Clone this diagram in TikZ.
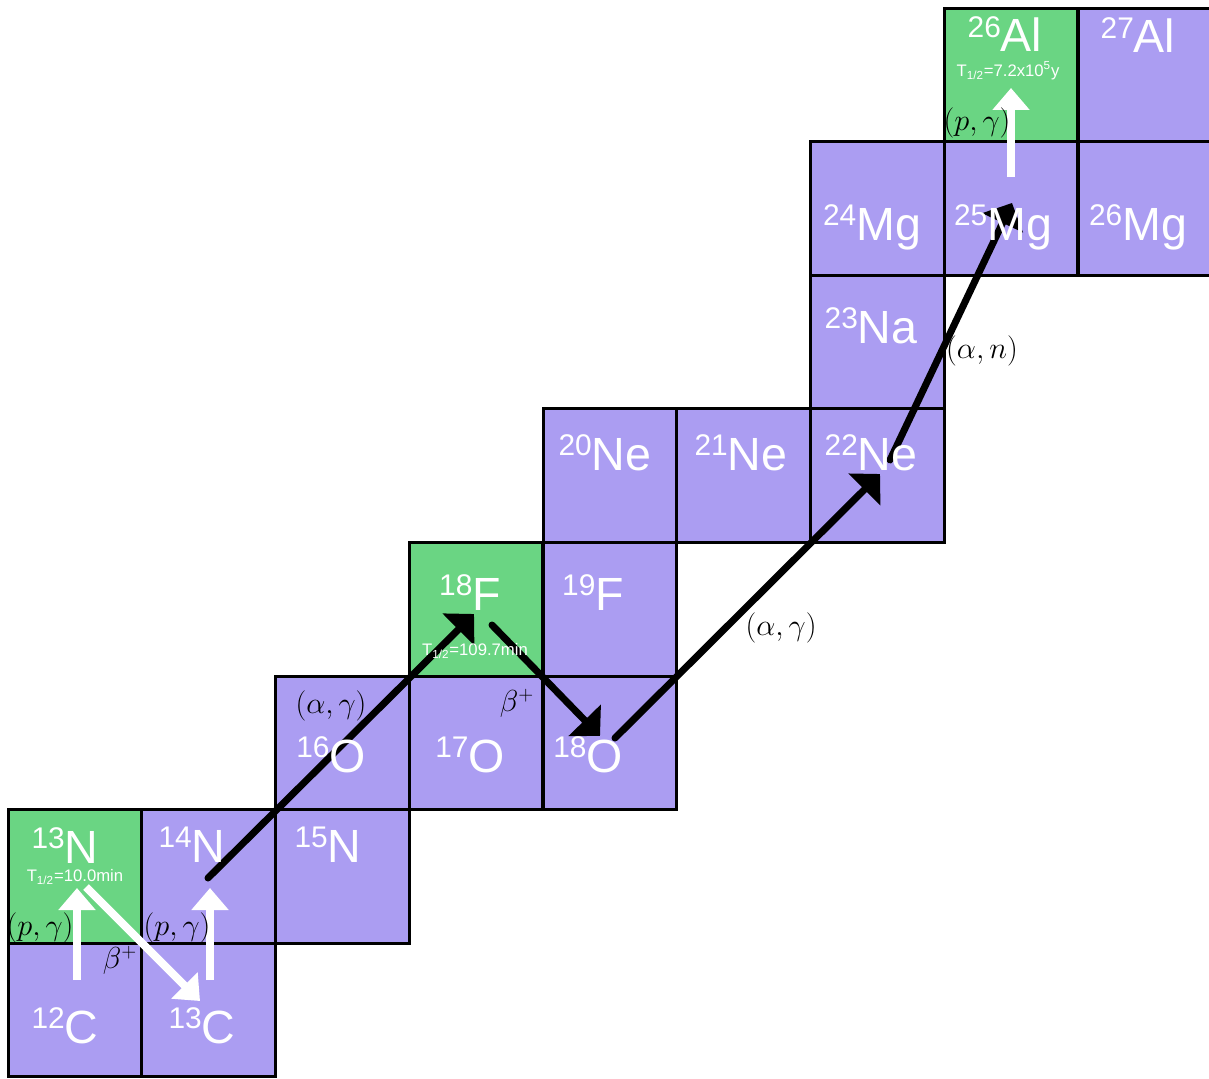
\documentclass[tikz,border=0pt]{standalone}
\usepackage{fontspec}
\setmainfont{Liberation Sans}
\usetikzlibrary{arrows.meta}
\definecolor{pur}{HTML}{AB9DF2}
\definecolor{grn}{HTML}{6AD583}
\newcommand\iso[2]{\raisebox{8.5pt}{\fontsize{17}{17}\selectfont #1}#2}
\newcommand\thalf[1]{T\textsubscript{1/2}=#1}
\begin{document}
\begin{tikzpicture}[x=0.02cm, y=-0.02cm,
  cell/.style={draw=black, line width=1.7pt, fill=pur, minimum width=2.675cm, minimum height=2.672cm, inner sep=0pt},
  gcell/.style={cell, fill=grn},
  isol/.style={text=white, font=\fontsize{26.5}{26.5}\selectfont, anchor=base, inner sep=0pt},
  hl/.style={text=white, font=\fontsize{9.5}{9.5}\selectfont, anchor=base, inner sep=0pt},
  rx/.style={font=\fontsize{16}{16}\selectfont, inner sep=0pt},
  barr/.style={line width=0.14cm, line cap=round, -{Triangle[length=0.44cm,width=0.88cm]}},
  warr/.style={draw=white, line width=0.16cm, -{Triangle[length=0.44cm,width=0.72cm]}}]
\fill[white] (0,0) rectangle (1209,1078);
\useasboundingbox (0,0) rectangle (1209,1078);
% cells
\node[gcell] (Al26) at (1011.1,74.8) {};
\node[cell]  (Al27) at (1144.9,74.8) {};
\node[cell]  (Mg24) at (877.4,208.4) {};
\node[cell]  (Mg25) at (1011.1,208.4) {};
\node[cell]  (Mg26) at (1144.9,208.4) {};
\node[cell]  (Na23) at (877.4,342.0) {};
\node[cell]  (Ne20) at (609.9,475.6) {};
\node[cell]  (Ne21) at (743.6,475.6) {};
\node[cell]  (Ne22) at (877.4,475.6) {};
\node[gcell] (F18)  at (476.1,609.2) {};
\node[cell]  (F19)  at (609.9,609.2) {};
\node[cell]  (O16)  at (342.4,742.8) {};
\node[cell]  (O17)  at (476.1,742.8) {};
\node[cell]  (O18)  at (609.9,742.8) {};
\node[gcell] (N13)  at (74.9,876.4) {};
\node[cell]  (N14)  at (208.6,876.4) {};
\node[cell]  (N15)  at (342.4,876.4) {};
\node[cell]  (C12)  at (74.9,1010.0) {};
\node[cell]  (C13)  at (208.6,1010.0) {};
% arrow end points
\coordinate (w1s) at (77,980);   \coordinate (w1e) at (77,888);
\coordinate (w2s) at (210,980);  \coordinate (w2e) at (210,888);
\coordinate (w3s) at (86,887);   \coordinate (w3e) at (200,1001);
\coordinate (w4s) at (1011,177); \coordinate (w4e) at (1011,88);
\coordinate (b1s) at (208,878);  \coordinate (b1e) at (474,614);
\coordinate (b2s) at (492,625);  \coordinate (b2e) at (600,736);
\coordinate (b3s) at (615,738);  \coordinate (b3e) at (880,474);
\coordinate (b4s) at (890,460);  \coordinate (b4e) at (1012,203);
% arrows
\draw[warr] (w1s) -- (w1e);
\draw[warr] (w2s) -- (w2e);
\draw[warr] (w3s) -- (w3e);
\draw[warr] (w4s) -- (w4e);
\draw[barr] (b1s) -- (b1e);
\draw[barr] (b2s) -- (b2e);
\draw[barr] (b3s) -- (b3e);
\draw[barr] (b4s) -- (b4e);
% isotope labels
\node[isol] (tAl26) at (1005,52) {\iso{26}{Al}};
\node[isol] (tAl27) at (1138,53) {\iso{27}{Al}};
\node[isol] (tMg24) at (872,240) {\iso{24}{Mg}};
\node[isol] (tMg25) at (1003,240) {\iso{25}{Mg}};
\node[isol] (tMg26) at (1138,240) {\iso{26}{Mg}};
\node[isol] (tNa23) at (871,343) {\iso{23}{Na}};
\node[isol] (tNe20) at (605,470) {\iso{20}{Ne}};
\node[isol] (tNe21) at (741,470) {\iso{21}{Ne}};
\node[isol] (tNe22) at (871,470) {\iso{22}{Ne}};
\node[isol] (tF18) at (470,610) {\iso{18}{F}};
\node[isol] (tF19) at (593,610) {\iso{19}{F}};
\node[isol] (tO16) at (331,772) {\iso{16}{O}};
\node[isol] (tO17) at (470,772) {\iso{17}{O}};
\node[isol] (tO18) at (588,772) {\iso{18}{O}};
\node[isol] (tN13) at (65,863) {\iso{13}{N}};
\node[isol] (tN14) at (192,862) {\iso{14}{N}};
\node[isol] (tN15) at (328,862) {\iso{15}{N}};
\node[isol] (tC12) at (65,1043) {\iso{12}{C}};
\node[isol] (tC13) at (202,1043) {\iso{13}{C}};
% half lives
\node[hl] (hN13) at (75,881) {\thalf{10.0min}};
\node[hl] (hF18) at (475,655) {\thalf{109.7min}};
\node[hl] (hAl26) at (1008,76) {\thalf{7.2x10\textsuperscript{5}y}};
% reaction labels
\node[rx] (r1) at (40,928) {$(p,\gamma)$};
\node[rx] (r2) at (177,928) {$(p,\gamma)$};
\node[rx] (r3) at (120,960) {$\beta^+$};
\node[rx] (r4) at (331,706) {$(\alpha,\gamma)$};
\node[rx] (r5) at (517,703) {$\beta^+$};
\node[rx] (r6) at (781,628) {$(\alpha,\gamma)$};
\node[rx] (r7) at (982,351) {$(\alpha,n)$};
\node[rx] (r8) at (977,123) {$(p,\gamma)$};
\end{tikzpicture}
\end{document}
